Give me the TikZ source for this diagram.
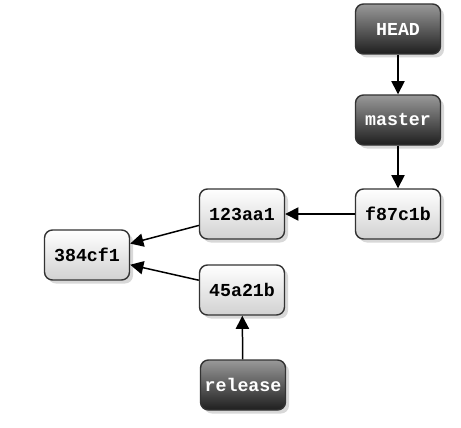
\documentclass[tikz,border=0pt]{standalone}
\usepackage{fontspec}
\setmonofont{Liberation Mono}
\usetikzlibrary{arrows.meta,shadows}
\begin{document}
\begin{tikzpicture}[
    box/.style={rectangle, rounded corners=0.16cm, draw=black!80, line width=0.8pt,
        minimum width=1.7cm, minimum height=1cm, inner sep=0pt,
        font=\fontsize{10.4}{12}\selectfont\ttfamily\bfseries,
        drop shadow={shadow xshift=0.07cm, shadow yshift=-0.07cm, fill=black!30}},
    commit/.style={box, top color=white, bottom color=black!18},
    ref/.style={box, top color=black!40, bottom color=black!88, text=white},
    link/.style={-{Triangle[length=7.5pt,width=7.5pt]}, line width=0.85pt}
]
    \useasboundingbox (0,0) rectangle (9.22,8.54);

    \node[ref] (head) at (7.96,7.96) {HEAD};
    \node[ref] (master) at (7.96,6.14) {master};
    \node[commit] (f87) at (7.96,4.26) {f87c1b};
    \node[commit] (c123) at (4.84,4.26) {123aa1};
    \node[commit] (c45) at (4.84,2.74) {45a21b};
    \node[commit] (c384) at (1.74,3.44) {384cf1};
    \node[ref] (release) at (4.86,0.84) {release};

    % Pointers and parents
    \draw[link] (head) -- (master);
    \draw[link] (master) -- (f87);
    \draw[link] (f87) -- (c123);
    \draw[link] (c123) -- (c384);
    \draw[link] (c45) -- (c384);
    \draw[link] (release) -- (c45);
\end{tikzpicture}
\end{document}
